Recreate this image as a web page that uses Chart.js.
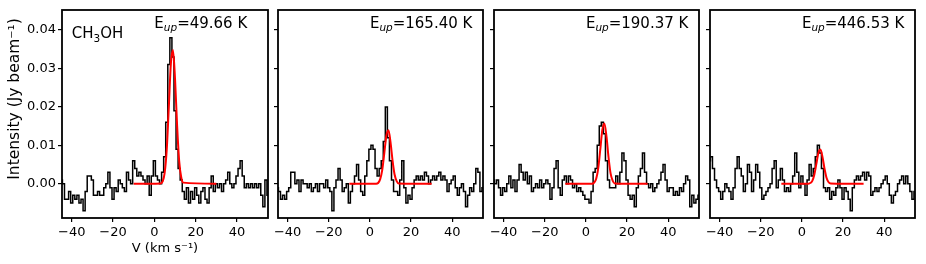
<!DOCTYPE html>
<html>
<head>
<meta charset="utf-8">
<script src="https://cdn.jsdelivr.net/npm/chart.js@4.4.1/dist/chart.umd.min.js"></script>
<style>
html, body { margin: 0; padding: 0; background: #fff; }
#wrap { position: relative; width: 926px; height: 264px; }
#wrap canvas { position: absolute; top: 0; }
</style>
</head>
<body>
<div id="wrap">
  <canvas id="p0" width="272" height="264" style="left:0px"></canvas>
  <canvas id="p1" width="216" height="264" style="left:272px"></canvas>
  <canvas id="p2" width="216" height="264" style="left:488px"></canvas>
  <canvas id="p3" width="222" height="264" style="left:704px"></canvas>
</div>
<script>
// channel velocities (km/s)
const vel = [
  -45, -44, -43, -42, -41, -40, -39, -38, -37, -36,
  -35, -34, -33, -32, -31, -30, -29, -28, -27, -26,
  -25, -24, -23, -22, -21, -20, -19, -18, -17, -16,
  -15, -14, -13, -12, -11, -10, -9, -8, -7, -6,
  -5, -4, -3, -2, -1, 0, 1, 2, 3, 4,
  5, 6, 7, 8, 9, 10, 11, 12, 13, 14,
  15, 16, 17, 18, 19, 20, 21, 22, 23, 24,
  25, 26, 27, 28, 29, 30, 31, 32, 33, 34,
  35, 36, 37, 38, 39, 40, 41, 42, 43, 44,
  45, 46, 47, 48, 49, 50, 51, 52, 53, 54, 55
];

// observed spectra (Jy/beam)
const spec1 = [
  0.001, 0.000, -0.004, -0.004, -0.002, -0.005, -0.003, -0.004, -0.003, -0.005,
  -0.004, -0.007, -0.002, 0.002, 0.002, 0.001, -0.003, -0.003, -0.002, -0.003,
  -0.003, -0.001, 0.000, 0.003, -0.001, -0.004, -0.001, -0.002, 0.001, 0.000,
  -0.001, -0.002, 0.003, 0.001, 0.000, 0.006, 0.004, 0.002, 0.003, 0.002,
  0.001, 0.000, 0.002, -0.003, 0.002, 0.006, 0.002, 0.001, 0.000, 0.003,
  0.007, 0.016, 0.031, 0.038, 0.033, 0.019, 0.009, 0.004, 0.001, -0.002,
  -0.004, -0.001, -0.005, -0.002, -0.004, -0.001, -0.003, -0.005, -0.002, -0.001,
  -0.004, -0.005, -0.001, 0.002, -0.002, 0.000, -0.001, 0.000, -0.002, 0.000,
  0.001, 0.003, 0.000, -0.001, 0.000, 0.002, 0.004, 0.006, 0.002, -0.001,
  0.000, -0.001, 0.000, -0.001, 0.000, -0.001, 0.000, -0.003, -0.006, 0.001, -0.003
];
const spec2 = [
  -0.001, -0.002, -0.004, -0.003, -0.004, -0.002, -0.001, 0.003, 0.003, 0.000,
  0.001, -0.002, 0.001, 0.000, 0.000, -0.001, 0.000, -0.002, -0.001, 0.000,
  -0.002, 0.000, 0.000, -0.001, 0.001, -0.001, -0.002, -0.007, -0.001, 0.001,
  0.004, 0.001, -0.002, -0.001, 0.000, -0.005, -0.002, 0.000, 0.002, 0.005,
  0.001, -0.002, -0.003, 0.002, 0.006, 0.009, 0.010, 0.009, 0.004, 0.002,
  0.004, 0.006, 0.011, 0.020, 0.012, 0.006, 0.001, -0.002, -0.002, -0.003,
  0.001, 0.006, -0.001, -0.005, -0.003, -0.004, -0.001, 0.001, 0.002, 0.001,
  0.002, 0.001, 0.003, 0.002, 0.000, 0.001, 0.002, 0.001, 0.002, 0.003,
  0.001, 0.002, 0.001, -0.002, 0.000, 0.001, 0.002, -0.001, -0.003, -0.001,
  0.000, -0.002, -0.006, -0.003, -0.001, -0.002, 0.000, 0.004, 0.003, -0.002, -0.001
];
const spec3 = [
  0.001, 0.000, 0.001, -0.001, -0.003, -0.001, -0.002, 0.000, 0.002, -0.001,
  0.001, -0.002, 0.001, 0.005, 0.003, 0.001, 0.003, 0.000, 0.002, -0.002,
  -0.001, 0.000, -0.001, 0.001, -0.001, 0.000, 0.001, 0.000, -0.004, -0.001,
  0.004, 0.006, -0.001, -0.003, 0.001, 0.002, 0.000, 0.002, 0.001, -0.001,
  0.000, -0.002, -0.001, -0.002, -0.003, -0.004, -0.004, -0.005, -0.002, 0.003,
  0.004, 0.010, 0.015, 0.016, 0.013, 0.006, 0.001, -0.001, -0.001, -0.001,
  0.002, 0.000, 0.003, 0.008, 0.006, 0.001, -0.003, -0.004, -0.003, -0.006,
  -0.001, 0.002, 0.004, 0.008, 0.003, 0.000, -0.001, 0.000, -0.002, -0.001,
  0.000, 0.001, 0.003, 0.005, 0.001, -0.002, -0.001, -0.001, -0.003, -0.002,
  -0.003, -0.001, -0.002, 0.000, 0.002, 0.001, -0.006, -0.003, -0.005, -0.004, -0.003
];
const spec4 = [
  0.006, 0.007, 0.004, 0.001, -0.001, -0.002, -0.004, -0.002, 0.000, -0.001,
  -0.002, -0.004, -0.001, 0.004, 0.007, 0.004, 0.002, -0.002, 0.000, 0.005,
  0.003, -0.002, 0.001, 0.005, 0.003, -0.001, -0.004, -0.003, -0.002, -0.001,
  0.000, 0.004, 0.006, -0.001, 0.001, 0.004, 0.001, -0.002, -0.001, -0.002,
  0.000, 0.002, 0.008, 0.003, -0.001, 0.002, 0.000, -0.003, 0.001, 0.005,
  0.002, 0.004, 0.007, 0.010, 0.008, 0.004, -0.001, -0.002, -0.001, -0.004,
  -0.002, -0.003, -0.001, 0.001, -0.001, -0.004, -0.001, -0.002, -0.004, -0.007,
  -0.001, 0.001, 0.002, 0.001, 0.002, 0.003, 0.001, 0.003, 0.002, -0.003,
  -0.002, -0.001, -0.002, -0.001, 0.000, 0.001, 0.002, 0.000, -0.003, -0.005,
  -0.003, -0.002, 0.000, 0.001, 0.002, 0.000, 0.002, 0.000, -0.002, -0.004, -0.002
];

// gaussian fits
const fitVel = [-10, 3, 4, 5, 6, 7, 8, 9, 10, 11, 12, 13, 14, 30];
const fit1 = [0, 0.0001, 0.0006, 0.0029, 0.0090, 0.0200, 0.0313, 0.0348, 0.0273, 0.0152, 0.0060, 0.0017, 0.0003, 0];
const fit2 = [0, 0.0000, 0.0002, 0.0012, 0.0036, 0.0080, 0.0125, 0.0139, 0.0109, 0.0061, 0.0024, 0.0007, 0.0001, 0];
const fit3 = [0, 0.0000, 0.0003, 0.0013, 0.0041, 0.0090, 0.0141, 0.0157, 0.0123, 0.0069, 0.0027, 0.0008, 0.0001, 0];
const fit4 = [0, 0.0000, 0.0002, 0.0007, 0.0023, 0.0051, 0.0080, 0.0089, 0.0070, 0.0039, 0.0015, 0.0004, 0.0001, 0];

const eupLabels = ['49.66', '165.40', '190.37', '446.53'];
const xTickVals = [-40, -20, 0, 20, 40];
const yTickVals = [0, 0.01, 0.02, 0.03, 0.04];

const FONT = '"DejaVu Sans", sans-serif';

function fmtV(v) {
  return v < 0 ? '\u2212' + Math.abs(v) : String(v);
}

// box around the plot area, like matplotlib spines
const framePlugin = {
  id: 'frame',
  afterDatasetsDraw(chart) {
    const a = chart.chartArea, c = chart.ctx;
    c.save();
    c.strokeStyle = '#000';
    c.lineWidth = 1.8;
    c.strokeRect(a.left, a.top, a.right - a.left, a.bottom - a.top);
    c.restore();
  }
};

const textPlugin = {
  id: 'panelText',
  afterDraw(chart, args, opts) {
    const c = chart.ctx;
    const xs = chart.scales.x, ys = chart.scales.y;
    c.save();
    c.fillStyle = '#000';
    c.textBaseline = 'alphabetic';
    c.textAlign = 'left';
    // E_up label, left edge at v = 0
    let x = xs.getPixelForValue(0);
    const yb = ys.getPixelForValue(0.0405);
    c.font = '15px ' + FONT;
    c.fillText('E', x, yb);
    x += c.measureText('E').width;
    c.font = 'italic 10.5px ' + FONT;
    c.fillText('up', x, yb + 3);
    x += c.measureText('up').width;
    c.font = '15px ' + FONT;
    c.fillText('=' + opts.eup + ' K', x, yb);

    if (opts.first) {
      // molecule name
      let sx = xs.getPixelForValue(-40);
      const sy = ys.getPixelForValue(0.038);
      c.font = '15px ' + FONT;
      c.fillText('CH', sx, sy);
      sx += c.measureText('CH').width;
      c.font = '10.5px ' + FONT;
      c.fillText('3', sx, sy + 4);
      sx += c.measureText('3').width;
      c.font = '15px ' + FONT;
      c.fillText('OH', sx, sy);

      // y axis title
      c.translate(15, 99);
      c.rotate(-Math.PI / 2);
      c.textAlign = 'center';
      c.textBaseline = 'middle';
      c.font = '15.5px ' + FONT;
      c.fillText('Intensity (Jy beam\u207B\u00B9)', 0, 0);
    }
    c.restore();
  }
};

const panels = [
  { id: 'p0', spec: spec1, fit: fit1, eup: eupLabels[0], yw: 62, pr: 4, first: true },
  { id: 'p1', spec: spec2, fit: fit2, eup: eupLabels[1], yw: 6, pr: 5, first: false },
  { id: 'p2', spec: spec3, fit: fit3, eup: eupLabels[2], yw: 6, pr: 5, first: false },
  { id: 'p3', spec: spec4, fit: fit4, eup: eupLabels[3], yw: 6, pr: 11, first: false }
];

panels.forEach(p => {
  const tickGrid = {
    display: true, drawOnChartArea: false, drawTicks: true,
    tickLength: 4, color: '#000', lineWidth: 1.2
  };
  new Chart(document.getElementById(p.id), {
    type: 'line',
    data: {
      datasets: [
        {
          data: fitVel.map((v, i) => ({ x: v, y: p.fit[i] })),
          borderColor: '#ff0000', borderWidth: 2, pointRadius: 0,
          cubicInterpolationMode: 'monotone', fill: false
        },
        {
          data: vel.map((v, i) => ({ x: v, y: p.spec[i] })),
          borderColor: '#000', borderWidth: 1.5, pointRadius: 0,
          stepped: 'middle', fill: false
        }
      ]
    },
    options: {
      responsive: false,
      animation: false,
      events: [],
      layout: { padding: { left: 0, right: p.pr, top: 10, bottom: 0 } },
      plugins: {
        legend: { display: false },
        tooltip: { enabled: false },
        panelText: { eup: p.eup, first: p.first }
      },
      scales: {
        x: {
          type: 'linear', min: -44.7, max: 55,
          afterBuildTicks: s => { s.ticks = xTickVals.map(v => ({ value: v })); },
          ticks: {
            autoSkip: false, maxRotation: 0,
            color: '#000', padding: 3,
            font: { family: FONT, size: 13 },
            callback: v => fmtV(v)
          },
          grid: tickGrid,
          border: { display: false },
          title: {
            display: p.first, text: 'V (km s\u207B\u00B9)', color: '#000',
            font: { family: FONT, size: 13 }, padding: { top: 0, bottom: 8 }
          },
          afterFit: s => { s.height = 46; s.paddingLeft = 0; s.paddingRight = 0; }
        },
        y: {
          min: -0.0089, max: 0.0452,
          afterBuildTicks: s => { s.ticks = yTickVals.map(v => ({ value: v })); },
          ticks: {
            display: p.first, autoSkip: false,
            color: '#000', padding: 2,
            font: { family: FONT, size: 13 },
            callback: v => v.toFixed(2)
          },
          grid: tickGrid,
          border: { display: false },
          afterFit: s => { s.width = p.yw; s.paddingTop = 0; s.paddingBottom = 0; }
        }
      }
    },
    plugins: [framePlugin, textPlugin]
  });
});
</script>
</body>
</html>
